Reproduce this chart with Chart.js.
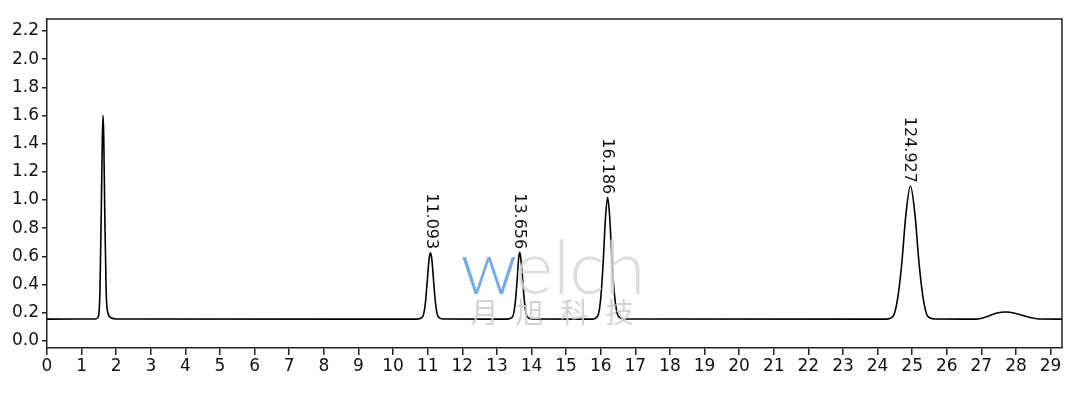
<!DOCTYPE html>
<html lang="en">
<head>
  <meta charset="UTF-8">
  <title>Chromatogram</title>
  <script src="https://cdn.jsdelivr.net/npm/chart.js"></script>
  <style>
    body { margin: 0; padding: 0; background: #fff; overflow: hidden; }
    canvas { display: block; }
  </style>
</head>
<body>
  <canvas id="chrom" width="1080" height="401"></canvas>

  <script>
    // Retention time (min) and signal
    const times = [
      0, 1.40, 1.48, 1.53, 1.57, 1.60, 1.62, 1.64, 1.67, 1.71, 1.76, 1.85, 2.0,
      10.70, 10.85, 10.93, 10.99, 11.04, 11.08, 11.12, 11.17, 11.23, 11.31, 11.45,
      13.30, 13.45, 13.53, 13.59, 13.63, 13.66, 13.69, 13.74, 13.80, 13.88, 14.02,
      15.75, 15.92, 16.00, 16.07, 16.14, 16.20, 16.26, 16.33, 16.41, 16.50, 16.68,
      24.25, 24.45, 24.58, 24.70, 24.82, 24.95, 25.08, 25.20, 25.32, 25.45, 25.65,
      26.85, 27.15, 27.45, 27.70, 28.00, 28.35, 28.70, 29.35
    ];
    const signal = [
      0.155, 0.156, 0.17, 0.35, 0.95, 1.45, 1.60, 1.45, 0.9, 0.35, 0.2, 0.165, 0.156,
      0.155, 0.17, 0.26, 0.43, 0.58, 0.625, 0.58, 0.43, 0.26, 0.17, 0.156,
      0.155, 0.17, 0.27, 0.45, 0.59, 0.63, 0.59, 0.45, 0.27, 0.17, 0.156,
      0.155, 0.18, 0.30, 0.55, 0.88, 1.02, 0.88, 0.55, 0.30, 0.18, 0.156,
      0.155, 0.175, 0.30, 0.55, 0.90, 1.10, 0.90, 0.55, 0.30, 0.175, 0.156,
      0.155, 0.172, 0.198, 0.205, 0.195, 0.170, 0.156, 0.155
    ];

    // Peak annotations
    const peakTimes = [11.093, 13.656, 16.186, 24.927];
    const peakTops = [0.63, 0.63, 1.02, 1.10];
    const peakTexts = ['11.093', '13.656', '16.186', '124.927'];

    // Tick values
    const xTicks = [0,1,2,3,4,5,6,7,8,9,10,11,12,13,14,15,16,17,18,19,20,21,22,23,24,25,26,27,28,29];
    const yTicks = [0, 0.2, 0.4, 0.6, 0.8, 1.0, 1.2, 1.4, 1.6, 1.8, 2.0, 2.2];

    const FONT = '"DejaVu Sans", sans-serif';

    // box around the plot + rotated peak labels + faint watermark
    const extras = {
      id: 'extras',
      beforeDatasetsDraw(chart) {
        const { ctx, chartArea: a } = chart;
        ctx.save();
        ctx.strokeStyle = '#222';
        ctx.lineWidth = 1.5;
        ctx.beginPath();
        ctx.moveTo(a.left, a.top);
        ctx.lineTo(a.right, a.top);
        ctx.lineTo(a.right, a.bottom);
        ctx.stroke();
        ctx.restore();
      },
      afterDatasetsDraw(chart) {
        const { ctx, scales: { x, y } } = chart;
        ctx.save();
        ctx.fillStyle = '#111';
        ctx.font = '16px ' + FONT;
        ctx.textAlign = 'right';
        ctx.textBaseline = 'middle';
        peakTimes.forEach((t, i) => {
          ctx.save();
          ctx.translate(x.getPixelForValue(t), y.getPixelForValue(peakTops[i]) - 3);
          ctx.rotate(Math.PI / 2);
          ctx.fillText(peakTexts[i], 0, 0);
          ctx.restore();
        });

        // watermark
        const left = x.getPixelForValue(11.95);
        const base = y.getPixelForValue(0.33);
        ctx.textAlign = 'left';
        ctx.textBaseline = 'alphabetic';
        ctx.font = '300 74px Lato, sans-serif';
        ctx.fillStyle = 'rgba(70, 140, 230, 0.75)';
        ctx.fillText('w', left, base);
        ctx.fillStyle = 'rgba(215, 215, 215, 0.85)';
        ctx.fillText('elch', left + 54, base);
        ctx.font = '28px "Noto Sans CJK SC", sans-serif';
        ctx.fillStyle = 'rgba(205, 205, 205, 0.9)';
        ['月', '旭', '科', '技'].forEach((c, i) => {
          ctx.fillText(c, left + 10 + i * 45, y.getPixelForValue(0.13));
        });
        ctx.restore();
      }
    };

    new Chart(document.getElementById('chrom'), {
      type: 'line',
      data: {
        datasets: [{
          data: times.map((t, i) => ({ x: t, y: signal[i] })),
          borderColor: '#000',
          borderWidth: 1.6,
          pointRadius: 0,
          fill: false,
          cubicInterpolationMode: 'monotone'
        }]
      },
      options: {
        responsive: false,
        animation: false,
        devicePixelRatio: 1,
        layout: { padding: { top: 19, right: 18, left: 0, bottom: 0 } },
        plugins: { legend: { display: false }, tooltip: { enabled: false } },
        scales: {
          x: {
            type: 'linear',
            min: 0,
            max: 29.33,
            afterBuildTicks: s => { s.ticks = xTicks.map(v => ({ value: v })); },
            afterFit: s => { s.height = 53; },
            grid: { display: true, drawOnChartArea: false, drawTicks: true, tickLength: 7, color: '#222', lineWidth: 1.5 },
            border: { display: true, color: '#222', width: 1.5 },
            ticks: { color: '#111', font: { size: 17, family: FONT }, padding: 1, maxRotation: 0, autoSkip: false }
          },
          y: {
            min: -0.05,
            max: 2.285,
            afterBuildTicks: s => { s.ticks = yTicks.map(v => ({ value: v })); },
            afterFit: s => { s.width = 47; },
            grid: { display: true, drawOnChartArea: false, drawTicks: true, tickLength: 5, color: '#222', lineWidth: 1.5 },
            border: { display: true, color: '#222', width: 1.5 },
            ticks: { color: '#111', font: { size: 17, family: FONT }, padding: 3, autoSkip: false, callback: v => v.toFixed(1) }
          }
        }
      },
      plugins: [extras]
    });
  </script>
</body>
</html>
